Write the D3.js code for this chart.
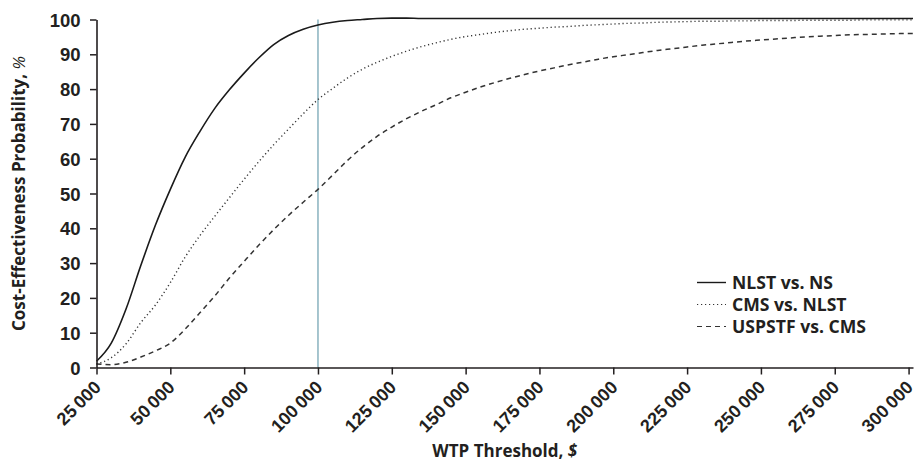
<!DOCTYPE html>
<html>
<head>
<meta charset="utf-8">
<script src="https://cdn.jsdelivr.net/npm/d3@7"></script>
<style>
  html, body { margin: 0; padding: 0; background: #fff; }
  svg { display: block; font-family: "Open Sans", "Noto Sans", sans-serif; }
</style>
</head>
<body>
<svg id="chart" width="916" height="462"></svg>
<script>
// ---- data ----
const thresholds = [25000, 30000, 35000, 40000, 45000, 50000, 55000, 60000, 65000, 70000,
  75000, 80000, 85000, 90000, 95000, 100000, 105000, 110000, 115000, 120000,
  125000, 130000, 135000, 140000, 145000, 150000, 155000, 160000, 165000, 170000,
  175000, 180000, 185000, 190000, 195000, 200000, 205000, 210000, 215000, 220000,
  225000, 230000, 235000, 240000, 245000, 250000, 255000, 260000, 265000, 270000,
  275000, 280000, 285000, 290000, 295000, 300000, 301500];

const nlstVsNs = [1.8, 7.0, 16.8, 29.3, 41.0, 51.2, 60.4, 67.8, 74.4, 79.8,
  84.6, 89.0, 92.8, 95.4, 97.2, 98.4, 99.2, 99.7, 100.0, 100.3,
  100.4, 100.4, 100.3, 100.3, 100.3, 100.3, 100.3, 100.3, 100.3, 100.3,
  100.3, 100.3, 100.3, 100.3, 100.3, 100.3, 100.3, 100.3, 100.3, 100.3,
  100.3, 100.3, 100.3, 100.3, 100.3, 100.3, 100.3, 100.3, 100.3, 100.3,
  100.3, 100.3, 100.3, 100.3, 100.3, 100.3, 100.3];

const cmsVsNlst = [1.0, 2.8, 6.8, 12.9, 18.0, 24.4, 31.7, 37.9, 43.4, 48.8,
  54.1, 59.2, 64.0, 68.5, 72.9, 77.0, 80.2, 83.2, 85.7, 87.7,
  89.4, 90.9, 92.2, 93.3, 94.3, 95.1, 95.7, 96.3, 96.8, 97.2,
  97.5, 97.8, 98.0, 98.3, 98.5, 98.7, 98.9, 99.0, 99.2, 99.3,
  99.4, 99.5, 99.5, 99.6, 99.6, 99.7, 99.7, 99.7, 99.8, 99.8,
  99.8, 99.8, 99.9, 99.9, 99.9, 99.9, 99.9];

const uspstfVsCms = [1.0, 0.8, 1.5, 3.0, 4.8, 7.0, 11.0, 15.7, 20.5, 25.7,
  30.5, 35.2, 39.6, 43.7, 47.5, 51.2, 55.3, 59.5, 63.2, 66.4,
  69.1, 71.5, 73.6, 75.5, 77.5, 79.1, 80.6, 81.9, 83.1, 84.2,
  85.2, 86.1, 87.0, 87.8, 88.6, 89.3, 89.9, 90.5, 91.1, 91.6,
  92.1, 92.6, 93.0, 93.4, 93.8, 94.1, 94.4, 94.7, 95.0, 95.2,
  95.4, 95.6, 95.7, 95.8, 95.9, 96.0, 96.0];

const seriesNames = ["NLST vs. NS", "CMS vs. NLST", "USPSTF vs. CMS"];
const xTickValues = [25000, 50000, 75000, 100000, 125000, 150000, 175000, 200000, 225000, 250000, 275000, 300000];
const yTickValues = [0, 10, 20, 30, 40, 50, 60, 70, 80, 90, 100];
const referenceThreshold = 100000;

// ---- layout ----
const svg = d3.select("#chart");
const plotLeft = 96.5, plotRight = 913, plotTop = 19.5, plotBottom = 367.5;
const ink = "#231f20";

const x = d3.scaleLinear().domain([25000, 301500]).range([plotLeft, plotRight]);
const y = d3.scaleLinear().domain([0, 100]).range([plotBottom, plotTop]);

const styles = [
  { dash: null, width: 1.6, color: "#1a1a1a" },
  { dash: "1.2,2.8", width: 1.4, color: "#333" },
  { dash: "5,4", width: 1.5, color: "#333" }
];
const allSeries = [nlstVsNs, cmsVsNlst, uspstfVsCms];

// reference line
svg.append("line")
  .attr("x1", x(referenceThreshold)).attr("x2", x(referenceThreshold))
  .attr("y1", y(100)).attr("y2", y(0))
  .attr("stroke", "#9dbfca").attr("stroke-width", 1.8);

// lines
const line = d3.line().curve(d3.curveMonotoneX);
allSeries.forEach((vals, i) => {
  svg.append("path")
    .attr("d", line(thresholds.map((t, j) => [x(t), y(vals[j])])))
    .attr("fill", "none")
    .attr("stroke", styles[i].color)
    .attr("stroke-width", styles[i].width)
    .attr("stroke-dasharray", styles[i].dash);
});

// axes
const fmt = v => d3.format(",")(v).replace(/,/g, "\u2009");
const xAxis = svg.append("g").attr("transform", `translate(0,${plotBottom})`)
  .call(d3.axisBottom(x).tickValues(xTickValues).tickSize(7).tickSizeOuter(0).tickFormat(fmt));
xAxis.select(".domain").attr("stroke", ink).attr("stroke-width", 1.6);
xAxis.selectAll(".tick line").attr("stroke", ink).attr("stroke-width", 1.5);
xAxis.selectAll(".tick text")
  .attr("font-size", 18).attr("font-weight", 700).attr("fill", ink)
  .attr("text-anchor", "end")
  .attr("dy", 0).attr("y", 0)
  .attr("transform", "translate(5,21) rotate(-45)");

const yAxis = svg.append("g").attr("transform", `translate(${plotLeft},0)`)
  .call(d3.axisLeft(y).tickValues(yTickValues).tickSize(6.5).tickSizeOuter(0));
yAxis.select(".domain").attr("stroke", ink).attr("stroke-width", 1.6);
yAxis.selectAll(".tick line").attr("stroke", ink).attr("stroke-width", 1.5);
yAxis.selectAll(".tick text")
  .attr("font-size", 18.5).attr("font-weight", 700).attr("fill", ink)
  .attr("x", -16).attr("dy", "0.36em");

// axis titles
const xt = svg.append("text")
  .attr("x", (plotLeft + plotRight) / 2).attr("y", 457)
  .attr("text-anchor", "middle").attr("font-size", 17).attr("font-weight", 700).attr("fill", ink);
xt.append("tspan").text("WTP Threshold, ");
xt.append("tspan").attr("font-style", "italic").text("$");

const yt = svg.append("text")
  .attr("transform", `translate(25,${(plotTop + plotBottom) / 2}) rotate(-90)`)
  .attr("text-anchor", "middle").attr("font-size", 17).attr("font-weight", 700).attr("fill", ink);
yt.append("tspan").text("Cost-Effectiveness Probability, ");
yt.append("tspan").attr("font-style", "italic").attr("font-weight", 400).text("%");

// legend
const legY = [282.5, 304.5, 326.5];
seriesNames.forEach((name, i) => {
  svg.append("line")
    .attr("x1", 697).attr("x2", 726)
    .attr("y1", legY[i]).attr("y2", legY[i])
    .attr("stroke", styles[i].color)
    .attr("stroke-width", i === 0 ? 1.4 : 1.2)
    .attr("stroke-dasharray", styles[i].dash);
  svg.append("text")
    .attr("x", 732).attr("y", legY[i]).attr("dy", "0.36em")
    .attr("font-size", 17.6).attr("font-weight", 700).attr("fill", ink)
    .text(name);
});
</script>
</body>
</html>
